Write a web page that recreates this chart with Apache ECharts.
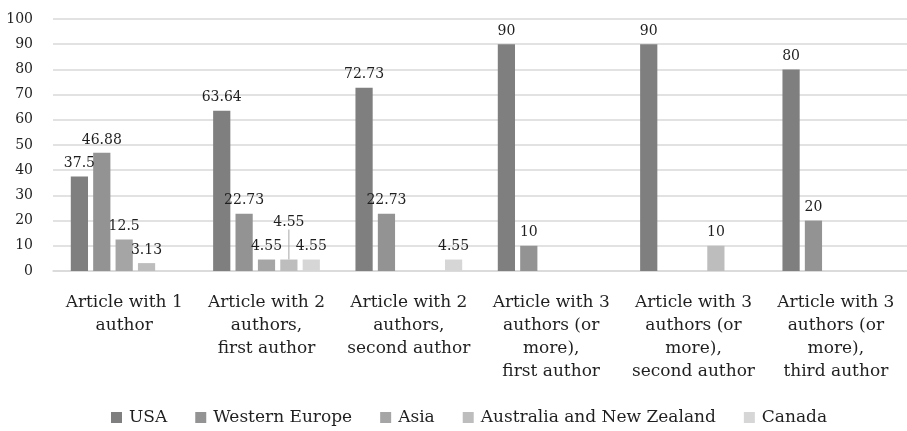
<!DOCTYPE html>
<html>
<head>
<meta charset="utf-8">
<script src="https://cdn.jsdelivr.net/npm/echarts@6/dist/echarts.min.js"></script>
<style>
  html, body { margin: 0; padding: 0; background: #ffffff; }
  #chart { width: 907px; height: 431px; }
</style>
</head>
<body>
<div id="chart"></div>
<script>
// Author position categories
const categories = [
  'Article with 1\nauthor',
  'Article with 2\nauthors,\nfirst author',
  'Article with 2\nauthors,\nsecond author',
  'Article with 3\nauthors (or\nmore),\nfirst author',
  'Article with 3\nauthors (or\nmore),\nsecond author',
  'Article with 3\nauthors (or\nmore),\nthird author'
];

// Share of authors by region (%), null where no value
const usa = [37.5, 63.64, 72.73, 90, 90, 80];
const westernEurope = [46.88, 22.73, 22.73, 10, null, 20];
const asia = [12.5, 4.55, null, null, null, null];
const australiaNZ = [3.13, 4.55, null, null, 10, null];
const canada = [null, 4.55, 4.55, null, null, null];

const seriesNames = ['USA', 'Western Europe', 'Asia', 'Australia and New Zealand', 'Canada'];
const seriesData = [usa, westernEurope, asia, australiaNZ, canada];
const seriesColors = ['#7f7f7f', '#939393', '#a5a5a5', '#bdbdbd', '#d6d6d6'];

const yTicks = { min: 0, max: 100, interval: 10 };

const FONT = 'DejaVu Serif';
const TEXT = '#1f1f1f';

// index of the crowded label (second group) that gets lifted with a leader line
const liftedIndex = 1;

const chart = echarts.init(document.getElementById('chart'), null, { renderer: 'canvas' });

const series = seriesNames.map((name, i) => {
  const isAUNZ = name === 'Australia and New Zealand';
  const data = seriesData[i].map((v, j) =>
    (isAUNZ && j === liftedIndex)
      ? { value: v, labelLine: { show: true } }
      : v
  );
  const s = {
    name: name,
    type: 'bar',
    data: data,
    barGap: '30%',
    barCategoryGap: '25%',
    itemStyle: { color: seriesColors[i] },
    label: {
      show: true,
      position: 'top',
      distance: 6,
      fontFamily: FONT,
      fontSize: 14,
      color: TEXT
    },
    emphasis: { disabled: true }
  };
  if (isAUNZ) {
    s.labelLayout = function (params) {
      if (params.dataIndex === liftedIndex) {
        return { dy: -24 };
      }
    };
    s.labelLine = { show: false, length2: 0, lineStyle: { color: '#a6a6a6', width: 1 } };
  }
  return s;
});

chart.setOption({
  backgroundColor: '#ffffff',
  animation: false,
  textStyle: { fontFamily: FONT },
  grid: { left: 53, right: 0, top: 19, bottom: 160, containLabel: false },
  xAxis: {
    type: 'category',
    data: categories,
    axisLine: { show: true, lineStyle: { color: '#d9d9d9', width: 1.5 } },
    axisTick: { show: false },
    axisLabel: {
      interval: 0,
      margin: 20,
      fontFamily: FONT,
      fontSize: 17,
      lineHeight: 23,
      color: TEXT,
      align: 'center'
    }
  },
  yAxis: {
    type: 'value',
    min: yTicks.min,
    max: yTicks.max,
    interval: yTicks.interval,
    axisLine: { show: false },
    axisTick: { show: false },
    splitLine: { lineStyle: { color: '#d9d9d9', width: 1.5 } },
    axisLabel: {
      margin: 20,
      fontFamily: FONT,
      fontSize: 14,
      color: TEXT
    }
  },
  legend: {
    data: seriesNames,
    left: 106,
    top: 404,
    itemWidth: 11,
    itemHeight: 11,
    itemGap: 28,
    icon: 'rect',
    textStyle: { fontFamily: FONT, fontSize: 17, color: TEXT, padding: [0, 0, 0, 2] }
  },
  series: series
});
</script>
</body>
</html>
